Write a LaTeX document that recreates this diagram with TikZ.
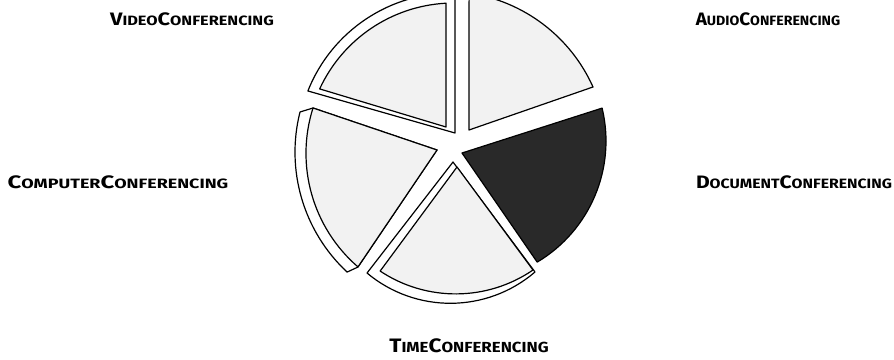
\documentclass[tikz,border=0pt]{standalone}
\usepackage{fontspec}
\setmainfont{Fira Sans}
\usepackage{graphicx}
\usepackage{tikz}
\usetikzlibrary{positioning}

% versalitas hechas a mano: inicial grande, resto en mayusculas chicas
\newcommand{\sclbl}[4]{{\fontsize{18}{20}\selectfont #1}{\fontsize{13.5}{16}\selectfont #2}{\fontsize{18}{20}\selectfont #3}{\fontsize{13.5}{16}\selectfont #4}}

\begin{document}
\begin{tikzpicture}[x=1pt, y=1pt,
    every node/.style={font=\bfseries, inner sep=0pt},
    cara/.style={draw=black, line width=1.2pt, line join=round, fill=black!5},
    borde/.style={draw=black, line width=1.2pt, line join=round, fill=white},
    oscuro/.style={draw=black, line width=1.2pt, line join=round, fill=black!84}
]
\useasboundingbox (0,0) rectangle (894,-359);

% ---- Etiquetas ----
\node (video) at (192,-19) {\scalebox{1.21}[1]{\sclbl{V}{IDEO}{C}{ONFERENCING}}};
\node (audio) at (768,-19) {\scalebox{1.05}[1]{\sclbl{A}{UDIO}{C}{ONFERENCING}}};
\node (computer) at (118,-182) {\scalebox{1.33}[1]{\sclbl{C}{OMPUTER}{C}{ONFERENCING}}};
\node (document) at (794,-182) {\scalebox{1.17}[1]{\sclbl{D}{OCUMENT}{C}{ONFERENCING}}};
\node (time) at (469,-346) {\scalebox{1.25}[1.08]{\sclbl{T}{IME}{C}{ONFERENCING}}};

% ---- Pastel ----
\begin{scope}[shift={(452,-146)}]
  % Audio
  \draw[cara] (17,16) -- (17.1,152.9) arc[start angle=81.6, end angle=24.1, radius=161.6] -- cycle;

  % Document
  \draw[oscuro] (10,-7) -- (150.1,37.9) arc[start angle=13.5, end angle=-59.2, radius=141] -- cycle;

  % Time
  \draw[borde] (1,-16) -- (83,-126) arc[start angle=-49.4, end angle=-129.9, radius=130] -- cycle;
  \draw[cara] (5,-21) -- (81,-124) arc[start angle=-55.6, end angle=-123.6, radius=136.7] -- cycle;

  % Computer
  \draw[borde] (-15,-4) -- (-139,38) -- (-152,34) arc[start angle=165.8, end angle=227, radius=163.9] -- (-94,-121) -- cycle;
  \draw[cara] (-15,-4) -- (-139,38) arc[start angle=162.4, end angle=229.2, radius=150] -- cycle;

  % Video
  \draw[borde] (-144,55) -- (3,13) -- (3,153) arc[start angle=88.9, end angle=158.4, radius=155] -- cycle;
  \draw[cara] (-132,57) -- (-6,19) -- (-6,142.8) arc[start angle=93.1, end angle=155.2, radius=148] -- cycle;
\end{scope}

\end{tikzpicture}
\end{document}
